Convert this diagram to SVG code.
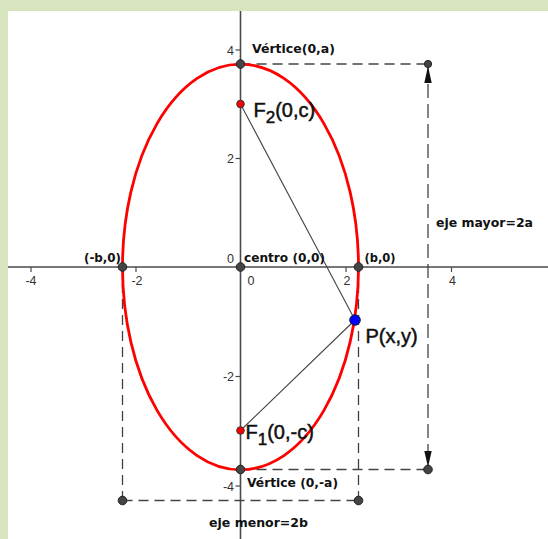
<svg xmlns="http://www.w3.org/2000/svg" width="548" height="539" viewBox="0 0 548 539">
<style>
.ax{stroke:#4a4a4a;stroke-width:1.6;fill:none}
.tick{stroke:#4a4a4a;stroke-width:1.2}
.tl{font-family:"Liberation Sans",Arial,sans-serif;font-size:12.5px;fill:#333}
.lb{font-family:"DejaVu Sans",Verdana,sans-serif;font-weight:bold;font-size:12.3px;fill:#111}
.big{font-family:"Liberation Sans",Arial,sans-serif;font-size:20px;fill:#111;stroke:#111;stroke-width:0.5}
.dash{stroke:#444;stroke-width:1.3;fill:none;stroke-dasharray:10 6}
.seg{stroke:#444;stroke-width:1.1;fill:none}
.pt{fill:#444;stroke:#222;stroke-width:1}
.rp{fill:#ff0000;stroke:#333;stroke-width:1}
.bp{fill:#0000ff;stroke:#222;stroke-width:1}
</style>
<rect x="0" y="0" width="548" height="539" fill="#d8e4bd"/>
<rect x="8" y="11" width="540" height="528" fill="#ffffff"/>

<!-- axes -->
<g id="axes">
<line class="ax" x1="8" y1="267" x2="548" y2="267"/>
<line class="ax" x1="240.5" y1="11" x2="240.5" y2="539"/>
<line class="tick" x1="31" y1="267" x2="31" y2="272"/>
<line class="tick" x1="136" y1="267" x2="136" y2="272"/>
<line class="tick" x1="346" y1="267" x2="346" y2="272"/>
<line class="tick" x1="451.5" y1="267" x2="451.5" y2="272"/>
<line class="tick" x1="235.5" y1="50" x2="240.5" y2="50"/>
<line class="tick" x1="235.5" y1="158.5" x2="240.5" y2="158.5"/>
<line class="tick" x1="235.5" y1="376.5" x2="240.5" y2="376.5"/>
<line class="tick" x1="235.5" y1="486" x2="240.5" y2="486"/>
<text class="tl" x="31" y="285" text-anchor="middle">-4</text>
<text class="tl" x="137" y="285" text-anchor="middle">-2</text>
<text class="tl" x="251" y="285" text-anchor="middle">0</text>
<text class="tl" x="347" y="285" text-anchor="middle">2</text>
<text class="tl" x="452.5" y="285" text-anchor="middle">4</text>
<text class="tl" x="234" y="54.5" text-anchor="end">4</text>
<text class="tl" x="234" y="163" text-anchor="end">2</text>
<text class="tl" x="234" y="263" text-anchor="end">0</text>
<text class="tl" x="234" y="381" text-anchor="end">-2</text>
<text class="tl" x="234" y="490.5" text-anchor="end">-4</text>
</g>

<!-- connectors -->
<g id="connectors">
<line class="dash" x1="240.5" y1="64" x2="428" y2="64"/>
<line class="dash" x1="240.5" y1="469.5" x2="428" y2="469.5"/>
<line class="dash" x1="428" y1="64" x2="428" y2="469.5" style="stroke-dasharray:14 6"/>
<polygon points="428,66 424.3,83 431.7,83" fill="#111"/>
<polygon points="428,467 424.3,451 431.7,451" fill="#111"/>
<line class="dash" x1="122.5" y1="267" x2="122.5" y2="500.5"/>
<line class="dash" x1="358.5" y1="267" x2="358.5" y2="500.5"/>
<line class="dash" x1="122.5" y1="500.5" x2="358.5" y2="500.5"/>
<line class="seg" x1="240.5" y1="104" x2="355" y2="320"/>
<line class="seg" x1="240.5" y1="430.5" x2="355" y2="320"/>
</g>

<!-- ellipse -->
<ellipse id="ellipse" cx="240.5" cy="267" rx="118" ry="202.8" fill="none" stroke="#ff0000" stroke-width="2.8"/>

<!-- nodes -->
<g id="vertex-top">
<circle class="pt" cx="240.5" cy="64" r="4.3"/>
<text class="lb" x="252" y="53" textLength="83" lengthAdjust="spacingAndGlyphs">Vértice(0,a)</text>
</g>
<g id="vertex-bottom">
<circle class="pt" cx="240.5" cy="469.5" r="4.3"/>
<text class="lb" x="247" y="487" textLength="91" lengthAdjust="spacingAndGlyphs">Vértice (0,-a)</text>
</g>
<g id="center">
<circle class="pt" cx="240.5" cy="267" r="4.3"/>
<text class="lb" x="244" y="261.5" textLength="81" lengthAdjust="spacingAndGlyphs">centro (0,0)</text>
</g>
<g id="minus-b">
<circle class="pt" cx="122.5" cy="267" r="4.3"/>
<text class="lb" x="84" y="261.5" textLength="37" lengthAdjust="spacingAndGlyphs">(-b,0)</text>
</g>
<g id="plus-b">
<circle class="pt" cx="358.5" cy="267" r="4.3"/>
<text class="lb" x="364.5" y="261.5" textLength="31" lengthAdjust="spacingAndGlyphs">(b,0)</text>
</g>
<g id="major-top">
<circle class="pt" cx="428" cy="64" r="3.6"/>
</g>
<g id="major-bottom">
<circle class="pt" cx="428" cy="469.5" r="4.3"/>
</g>
<g id="minor-left">
<circle class="pt" cx="122.5" cy="500.5" r="4.3"/>
</g>
<g id="minor-right">
<circle class="pt" cx="358.5" cy="500.5" r="4.3"/>
</g>
<g id="F2">
<circle class="rp" cx="240.5" cy="104" r="3.8"/>
<text class="big" x="253.5" y="117">F<tspan font-size="17" dy="6">2</tspan><tspan dy="-6">(0,c)</tspan></text>
</g>
<g id="F1">
<circle class="rp" cx="240.5" cy="430.5" r="3.8"/>
<text class="big" x="245.5" y="438.5">F<tspan font-size="17" dy="6">1</tspan><tspan dy="-6">(0,-c)</tspan></text>
</g>
<g id="P">
<circle class="bp" cx="355" cy="320" r="5.3"/>
<text class="big" x="365.5" y="343">P(x,y)</text>
</g>
<g id="labels">
<text class="lb" x="436" y="227" textLength="97" lengthAdjust="spacingAndGlyphs">eje mayor=2a</text>
<text class="lb" x="209" y="527" textLength="99" lengthAdjust="spacingAndGlyphs">eje menor=2b</text>
</g>
</svg>
